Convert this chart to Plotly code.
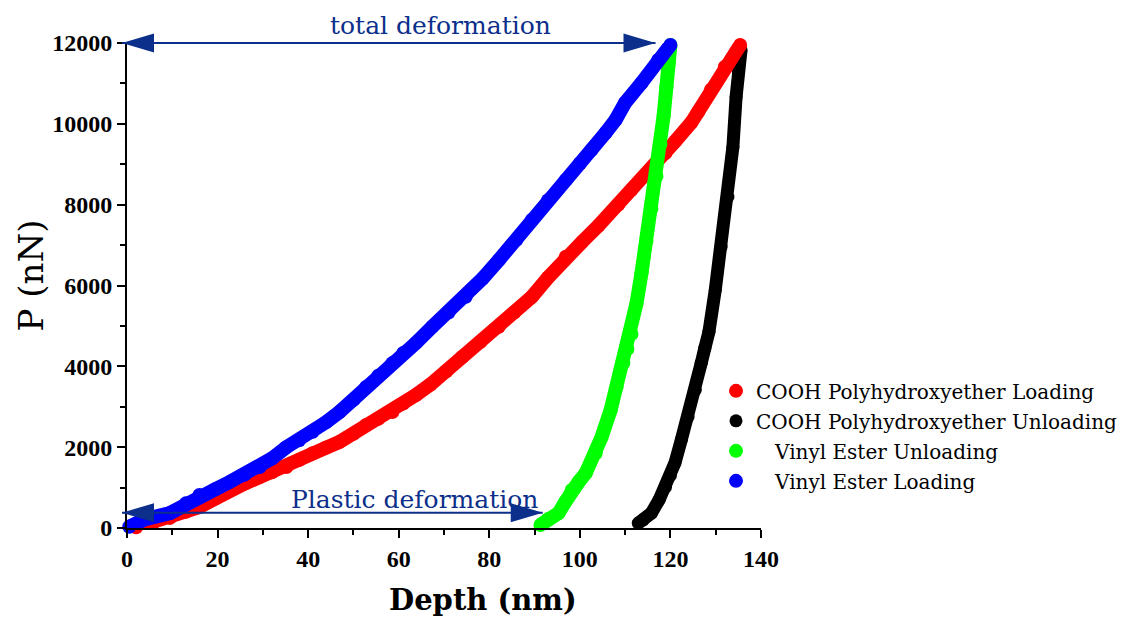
import plotly.graph_objects as go

# ---- data ----
ve_load_x = [0.5, 4, 9.5, 13, 16, 19.5, 22.7, 26, 29.3, 32, 35.2, 38, 41, 44, 46.9, 50, 52.8, 55.5, 58.6, 61,
             63.8, 67.4, 71, 74.8, 78.5, 82.1, 86, 89.4, 93, 96.9, 100, 102.6, 105.7, 107.9, 110, 113.6, 117.3, 120]
ve_load_y = [30, 220, 370, 610, 815, 960, 1140, 1320, 1510, 1720, 2000, 2170, 2380, 2620, 2870, 3170, 3490, 3770,
             4080, 4330, 4580, 4980, 5330, 5720, 6170, 6630, 7130, 7620, 8110, 8610, 9020, 9360, 9780, 10100,
             10520, 11010, 11580, 11950]

cooh_load_x = [2, 6, 9.5, 13, 16, 19.5, 22.7, 26, 29.3, 32, 35.2, 38, 41, 44, 46.9, 50, 52.8, 55.5, 58.6, 61,
               63.8, 67, 70.5, 74, 78, 82.1, 85.5, 89.4, 93, 96.9, 100.5, 104.1, 108.5, 111.4, 115.1, 118.9,
               121, 124.6, 126.1, 129, 132, 135.4]
cooh_load_y = [20, 150, 250, 400, 520, 730, 940, 1100, 1260, 1380, 1510, 1680, 1850, 1990, 2130, 2330, 2550,
               2700, 2870, 3080, 3290, 3550, 3880, 4230, 4600, 4980, 5330, 5720, 6200, 6710, 7080, 7480, 8000,
               8370, 8800, 9280, 9560, 10030, 10290, 10850, 11410, 11950]

ve_unload_x = [91.3, 93, 95.3, 96.8, 98.2, 99.8, 101.3, 103.5, 104.8, 106.8, 108.1, 109.6, 110.5, 111.4, 112.5,
               113.6, 114.7, 115.8, 116.9, 117.8, 118.5, 119.1, 119.6, 120]
ve_unload_y = [75, 220, 370, 650, 940, 1150, 1360, 1850, 2250, 2920, 3490, 4080, 4430, 4800, 5550, 6300, 7100,
               7900, 8700, 9500, 10200, 10900, 11500, 11950]

cooh_unload_x = [112.9, 114, 115.8, 117.5, 118.9, 120, 121, 122.4, 123.9, 125.5, 126.8, 127.6, 128.5, 129.9,
                 131.2, 132.7, 133.8, 134.5, 135, 135.6]
cooh_unload_y = [120, 200, 370, 700, 1010, 1300, 1610, 2180, 2750, 3420, 4080, 4450, 4850, 5890, 6960, 8190,
                 9430, 10670, 11300, 11830]

x_ticks = [0, 20, 40, 60, 80, 100, 120, 140]
y_ticks = [0, 2000, 4000, 6000, 8000, 10000, 12000]
x_range = [0, 140]
y_range = [0, 12000]

TXT = "DejaVu Serif"
NAVY = "#0B2F8A"

fig = go.Figure()

def add(name, xs, ys, color, rank, size=14):
    fig.add_trace(go.Scatter(
        x=xs, y=ys, mode="lines", line=dict(color=color, width=size),
        cliponaxis=False, showlegend=False, hoverinfo="skip", legendgroup=name,
    ))
    fig.add_trace(go.Scatter(
        x=xs, y=ys, name=name, mode="markers",
        marker=dict(color=color, size=size),
        cliponaxis=False, legendrank=rank, legendgroup=name,
    ))

add("COOH Polyhydroxyether Unloading", cooh_unload_x, cooh_unload_y, "#000000", 2, 13)
add("COOH Polyhydroxyether Loading", cooh_load_x, cooh_load_y, "#FF0000", 1)
add("\u00a0\u00a0 Vinyl Ester Unloading", ve_unload_x, ve_unload_y, "#00FF00", 3)
add("\u00a0\u00a0 Vinyl Ester Loading", ve_load_x, ve_load_y, "#0000FF", 4)

axis_common = dict(
    showgrid=False, zeroline=False, showline=True, linecolor="black", linewidth=2,
    ticks="outside", tickcolor="black", tickwidth=2, ticklen=8,
    tickfont=dict(family="Liberation Serif", size=24, color="black", weight="bold"),
)
fig.update_xaxes(range=x_range, tickvals=x_ticks, ticktext=[str(v) for v in x_ticks],
                 minor=dict(dtick=10, ticks="outside", ticklen=5, tickwidth=2, tickcolor="black"),
                 **axis_common)
fig.update_yaxes(range=y_range, tickvals=y_ticks, ticktext=[str(v) for v in y_ticks],
                 minor=dict(dtick=1000, ticks="outside", ticklen=5, tickwidth=2, tickcolor="black"),
                 **axis_common)

# deformation arrows (in paper coords so nothing is clipped)
def px(x):
    return (x - x_range[0]) / (x_range[1] - x_range[0])

def py(y):
    return (y - y_range[0]) / (y_range[1] - y_range[0])

def harrow(x0, x1, y):
    fig.add_shape(type="line", xref="paper", yref="paper", x0=px(x0), x1=px(x1), y0=py(y), y1=py(y),
                  line=dict(color=NAVY, width=2))
    fig.add_shape(type="path", xref="paper", yref="paper", xsizemode="pixel", ysizemode="pixel",
                  xanchor=px(x0), yanchor=py(y), path="M0,0 L32,9.5 L32,-9.5 Z",
                  fillcolor=NAVY, line=dict(width=0))
    fig.add_shape(type="path", xref="paper", yref="paper", xsizemode="pixel", ysizemode="pixel",
                  xanchor=px(x1), yanchor=py(y), path="M0,0 L-32,9.5 L-32,-9.5 Z",
                  fillcolor=NAVY, line=dict(width=0))

harrow(-1.1, 116.7, 12000)
harrow(-1.1, 91.8, 380)

fig.add_annotation(x=px(69.3), y=1.037, xref="paper", yref="paper", text="total deformation", showarrow=False,
                   xanchor="center", yanchor="middle",
                   font=dict(family=TXT, size=25, color=NAVY))
fig.add_annotation(x=63.5, y=700, xref="x", yref="y", text="Plastic deformation", showarrow=False,
                   xanchor="center", yanchor="middle",
                   font=dict(family=TXT, size=25, color=NAVY))

# axis titles
fig.add_annotation(x=0.561, y=-0.148, xref="paper", yref="paper", text="<b>Depth (nm)</b>", showarrow=False,
                   xanchor="center", yanchor="middle",
                   font=dict(family=TXT, size=29, color="black"))
fig.add_annotation(x=-0.152, y=0.52, xref="paper", yref="paper", text="P (nN)", showarrow=False, textangle=-90,
                   xanchor="center", yanchor="middle",
                   font=dict(family=TXT, size=34, color="black"))

fig.update_layout(
    width=1135, height=623,
    margin=dict(l=127, r=372, t=43, b=95),
    plot_bgcolor="white", paper_bgcolor="white",
    showlegend=True,
    legend=dict(x=0.929, y=0.323, xanchor="left", yanchor="top", traceorder="grouped",
                tracegroupgap=1, font=dict(family=TXT, size=20, color="black"),
                bgcolor="rgba(0,0,0,0)", itemwidth=30),
)

fig.write_html("out.html")
